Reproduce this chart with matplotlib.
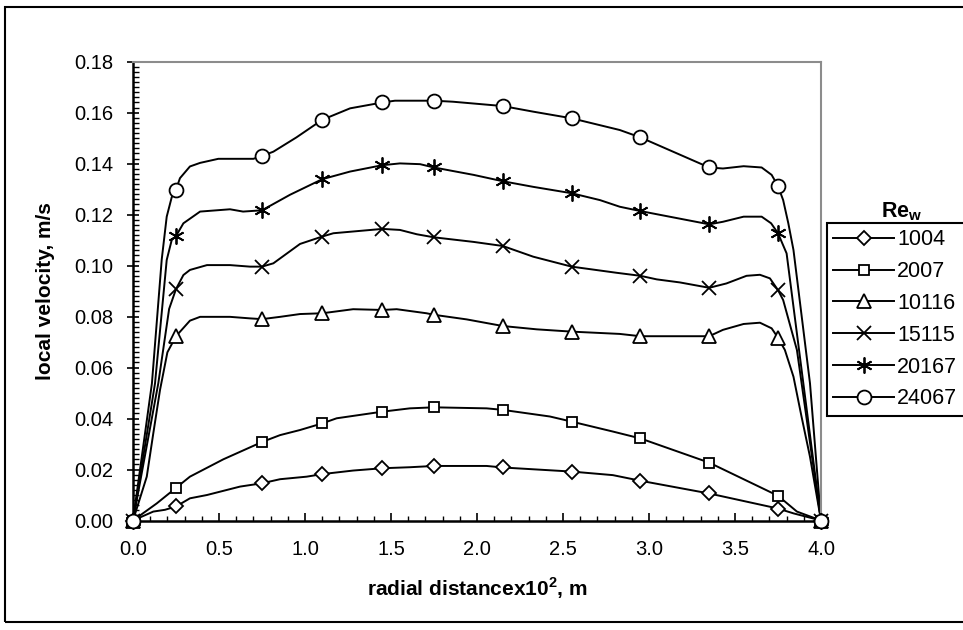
import matplotlib
matplotlib.use('Agg')
import matplotlib.pyplot as plt
from matplotlib.lines import Line2D
from matplotlib.patches import Rectangle
from matplotlib.ticker import MultipleLocator, FormatStrFormatter

plt.rcParams['font.family'] = ['Liberation Sans', 'DejaVu Sans']
plt.rcParams['mathtext.fontset'] = 'custom'
plt.rcParams['mathtext.rm'] = 'Liberation Sans'
plt.rcParams['mathtext.bf'] = 'Liberation Sans:bold'

# marker positions (radial distance x10^2, m)
x_mark = [0, 0.25, 0.75, 1.1, 1.45, 1.75, 2.15, 2.55, 2.95, 3.35, 3.75, 4.0]

# measured local velocity at the marker positions, m/s
v_1004 = [0, 0.0055, 0.0146, 0.0182, 0.0205, 0.0214, 0.0208, 0.0192, 0.0156, 0.0106, 0.0047, 0]
v_2007 = [0, 0.0128, 0.0308, 0.0381, 0.0427, 0.0444, 0.0434, 0.0388, 0.0322, 0.0227, 0.0097, 0]
v_10116 = [0, 0.0723, 0.0790, 0.0813, 0.0826, 0.0807, 0.0763, 0.0741, 0.0723, 0.0723, 0.0717, 0]
v_15115 = [0, 0.0908, 0.0996, 0.1114, 0.1144, 0.1111, 0.1077, 0.0996, 0.0960, 0.0913, 0.0904, 0]
v_20167 = [0, 0.1116, 0.1217, 0.1339, 0.1394, 0.1385, 0.1331, 0.1284, 0.1214, 0.1162, 0.1127, 0]
v_24067 = [0, 0.1298, 0.1430, 0.1572, 0.1640, 0.1647, 0.1626, 0.1578, 0.1503, 0.1385, 0.1312, 0]

# curve points (denser than the markers)
lx_1004 = [0, 0.118, 0.186, 0.25, 0.331, 0.43, 0.622, 0.75, 0.855, 1.01, 1.1, 1.28, 1.45, 1.61, 1.75,
           2.056, 2.15, 2.55, 2.79, 2.95, 3.35, 3.75, 3.84, 4.0]
ly_1004 = [0, 0.0035, 0.0042, 0.0055, 0.0087, 0.0100, 0.0133, 0.0146, 0.0162, 0.0172, 0.0182, 0.0196,
           0.0205, 0.0209, 0.0214, 0.0214, 0.0208, 0.0192, 0.0178, 0.0156, 0.0106, 0.0047, 0.0028, 0]

lx_2007 = [0, 0.138, 0.25, 0.331, 0.525, 0.75, 0.855, 0.971, 1.1, 1.184, 1.45, 1.61, 1.75, 2.056, 2.15,
           2.424, 2.55, 2.79, 2.95, 3.35, 3.75, 3.86, 4.0]
ly_2007 = [0, 0.0067, 0.0128, 0.0172, 0.0240, 0.0308, 0.0335, 0.0355, 0.0381, 0.0401, 0.0427, 0.0440,
           0.0444, 0.0440, 0.0434, 0.0408, 0.0388, 0.0349, 0.0322, 0.0227, 0.0097, 0.0035, 0]

lx_10116 = [0, 0.08, 0.118, 0.157, 0.20, 0.25, 0.331, 0.39, 0.564, 0.68, 0.75, 0.855, 0.971, 1.1, 1.28,
            1.45, 1.533, 1.707, 1.75, 1.94, 2.15, 2.347, 2.55, 2.83, 2.95, 3.35, 3.43, 3.55, 3.645,
            3.713, 3.75, 3.79, 3.84, 3.887, 3.936, 4.0]
ly_10116 = [0, 0.0172, 0.0342, 0.0512, 0.0660, 0.0723, 0.0784, 0.0799, 0.0799, 0.0793, 0.0790, 0.0799,
            0.0810, 0.0813, 0.0829, 0.0826, 0.0829, 0.0813, 0.0807, 0.0789, 0.0763, 0.0750, 0.0741,
            0.0732, 0.0723, 0.0723, 0.0748, 0.0771, 0.0776, 0.0754, 0.0717, 0.0669, 0.0564, 0.0407,
            0.0250, 0]

lx_15115 = [0, 0.147, 0.21, 0.25, 0.293, 0.331, 0.43, 0.564, 0.68, 0.75, 0.816, 0.971, 1.1, 1.165, 1.45,
            1.552, 1.65, 1.75, 1.98, 2.15, 2.327, 2.55, 2.81, 2.95, 3.045, 3.18, 3.35, 3.45, 3.567,
            3.645, 3.703, 3.75, 3.78, 3.86, 4.0]
ly_15115 = [0, 0.0538, 0.0830, 0.0908, 0.0963, 0.0983, 0.1002, 0.1002, 0.0996, 0.0996, 0.1009, 0.1085,
            0.1114, 0.1127, 0.1144, 0.1140, 0.1123, 0.1111, 0.1093, 0.1077, 0.1035, 0.0996, 0.0972,
            0.0960, 0.0946, 0.0934, 0.0913, 0.0930, 0.0960, 0.0964, 0.0950, 0.0904, 0.0865, 0.0669, 0]

lx_20167 = [0, 0.128, 0.196, 0.225, 0.25, 0.293, 0.39, 0.564, 0.64, 0.75, 0.913, 1.1, 1.262, 1.45, 1.552,
            1.669, 1.75, 1.98, 2.15, 2.327, 2.55, 2.715, 2.83, 2.95, 3.35, 3.43, 3.55, 3.655, 3.71,
            3.75, 3.80, 4.0]
ly_20167 = [0, 0.0538, 0.1022, 0.1100, 0.1116, 0.1166, 0.1212, 0.1221, 0.1212, 0.1217, 0.1278, 0.1339,
            0.1369, 0.1394, 0.1401, 0.1398, 0.1385, 0.1356, 0.1331, 0.1309, 0.1284, 0.1257, 0.1231,
            0.1214, 0.1162, 0.1172, 0.1192, 0.1192, 0.1166, 0.1127, 0.1048, 0]

lx_24067 = [0, 0.11, 0.167, 0.196, 0.225, 0.25, 0.273, 0.331, 0.39, 0.496, 0.70, 0.75, 0.816, 0.95, 1.1,
            1.262, 1.45, 1.523, 1.669, 1.75, 1.86, 2.15, 2.327, 2.55, 2.83, 2.95, 3.35, 3.43, 3.55,
            3.655, 3.713, 3.75, 3.78, 3.81, 3.84, 3.936, 4.0]
ly_24067 = [0, 0.0538, 0.1024, 0.1192, 0.1268, 0.1298, 0.1343, 0.1389, 0.1403, 0.1419, 0.1419, 0.1430,
            0.1447, 0.1503, 0.1572, 0.1617, 0.1640, 0.1647, 0.1647, 0.1647, 0.1643, 0.1626, 0.1604,
            0.1578, 0.1532, 0.1503, 0.1385, 0.1381, 0.1390, 0.1385, 0.1356, 0.1312, 0.1257, 0.1166,
            0.1061, 0.0538, 0]

labels = ['1004', '2007', '10116', '15115', '20167', '24067']

fig = plt.figure(figsize=(9.63, 6.3), dpi=100)
ax = fig.add_axes([133 / 963, 1 - 520.5 / 630, (821 - 133) / 963, (520.5 - 61.7) / 630])

series = [
    (lx_1004, ly_1004, v_1004, 'D', 7.5),
    (lx_2007, ly_2007, v_2007, 's', 7),
    (lx_10116, ly_10116, v_10116, '^', 10),
    (lx_15115, ly_15115, v_15115, 'x', 9.5),
    (lx_20167, ly_20167, v_20167, (6, 2, 0), 11.5),
    (lx_24067, ly_24067, v_24067, 'o', 10),
]

handles = []
for (lx, ly, vm, mk, ms), lab in zip(series, labels):
    ax.plot(lx, ly, color='black', lw=1.4, zorder=2)
    ax.plot(x_mark, vm, ls='none', marker=mk, ms=ms, mfc='white', mec='black', mew=1.3,
            zorder=3, clip_on=False)
    handles.append(Line2D([], [], color='black', lw=1.4, marker=mk, ms=ms, mfc='white',
                          mec='black', mew=1.3, label=lab))

ax.set_xlim(0, 4.0)
ax.set_ylim(0, 0.18)
ax.xaxis.set_major_locator(MultipleLocator(0.5))
ax.xaxis.set_minor_locator(MultipleLocator(0.1))
ax.yaxis.set_major_locator(MultipleLocator(0.02))
ax.yaxis.set_minor_locator(MultipleLocator(0.002))
ax.xaxis.set_major_formatter(FormatStrFormatter('%.1f'))
ax.yaxis.set_major_formatter(FormatStrFormatter('%.2f'))

ax.tick_params(axis='both', which='major', labelsize=14.5, width=1.2, color='black')
ax.tick_params(axis='x', which='major', direction='in', length=6, pad=14)
ax.tick_params(axis='x', which='minor', direction='in', length=3.5, width=1.0)
ax.tick_params(axis='y', which='major', direction='inout', length=8, pad=10)
ax.tick_params(axis='y', which='minor', direction='in', length=4, width=1.0)
ax.tick_params(top=False, right=False, which='both')

for s in ['left', 'bottom']:
    ax.spines[s].set_color('black')
    ax.spines[s].set_linewidth(1.8)
for s in ['top', 'right']:
    ax.spines[s].set_color('#8c8c8c')
    ax.spines[s].set_linewidth(1.5)

ax.set_xlabel(r'radial distancex10$^\mathbf{2}$, m', fontsize=15, fontweight='bold', labelpad=12)
ax.set_ylabel('local velocity, m/s', fontsize=15, fontweight='bold', labelpad=14)

leg = fig.legend(handles=handles, loc='upper left',
                 bbox_to_anchor=(827 / 963, 1 - 223 / 630 - 0.01, 0.2, 0.01),
                 mode='expand', borderaxespad=0, fontsize=15.5, frameon=True, fancybox=False,
                 handlelength=2.8, handletextpad=0.15, labelspacing=0.5, borderpad=0.3,
                 numpoints=1)
leg.get_frame().set_edgecolor('black')
leg.get_frame().set_linewidth(1.5)
leg.get_frame().set_alpha(1)

fig.text(902 / 963, 1 - 212 / 630, r'Re$_\mathbf{w}$', fontsize=15.5, fontweight='bold',
         ha='center', va='center')

# outer chart border
fig.patches.append(Rectangle((5 / 963, 1 - 622 / 630), 1.0, (622 - 7) / 630, transform=fig.transFigure,
                             fill=False, edgecolor='black', linewidth=1.5, clip_on=False))

fig.savefig('out.png', dpi=100)
